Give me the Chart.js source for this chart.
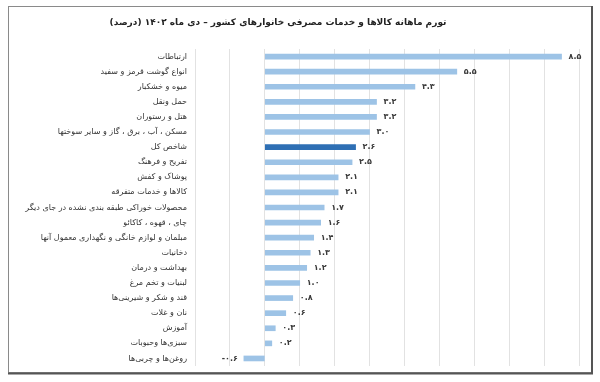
<!DOCTYPE html>
<html><head><meta charset="utf-8">
<script src="https://cdn.jsdelivr.net/npm/chart.js@4"></script>
<style>html,body{margin:0;padding:0;background:#fff}#wrap{width:600px;height:382px}</style>
</head><body><div id="wrap"><canvas id="c" width="600" height="382"></canvas></div>
<script>
const titleText = "تورم ماهانه کالاها و خدمات مصرفی خانوارهای کشور – دی ماه ۱۴۰۲ (درصد)";
const categories = [
  "ارتباطات",
  "انواع گوشت قرمز و سفید",
  "میوه و خشکبار",
  "حمل ونقل",
  "هتل و رستوران",
  "مسکن ، آب ، برق ، گاز و سایر سوختها",
  "شاخص کل",
  "تفریح و فرهنگ",
  "پوشاک و کفش",
  "کالاها و خدمات متفرقه",
  "محصولات خوراکی طبقه بندی نشده در جای دیگر",
  "چای ، قهوه ، کاکائو",
  "مبلمان و لوازم خانگی و نگهداری معمول آنها",
  "دخانیات",
  "بهداشت و درمان",
  "لبنیات و تخم مرغ",
  "قند و شکر و شیرینی‌ها",
  "نان و غلات",
  "آموزش",
  "سبزی‌ها وحبوبات",
  "روغن‌ها و چربی‌ها"
];
const values = [8.5, 5.5, 4.3, 3.2, 3.2, 3.0, 2.6, 2.5, 2.1, 2.1, 1.7, 1.6, 1.4, 1.3, 1.2, 1.0, 0.8, 0.6, 0.3, 0.2, -0.6];
const highlightCategory = "شاخص کل";
const xMin = -2, xMax = 9;

const faDigits = "۰۱۲۳۴۵۶۷۸۹";
function toFa(v){
  const s = Math.abs(v).toFixed(1).replace(/[0-9]/g, d => faDigits[+d]);
  return (v < 0 ? "-" : "") + s;
}

const LIGHT = "#9dc3e6", DARK = "#2e6fb4";
const FONT = "DejaVu Sans";

const framePlugin = {
  id: "frame",
  beforeDraw(chart){
    const ctx = chart.ctx;
    ctx.save();
    ctx.fillStyle = "#fff";
    ctx.fillRect(0,0,600,382);
    ctx.strokeStyle = "#8a8a8a";
    ctx.lineWidth = 1;
    ctx.strokeRect(8.5, 6.5, 583, 366);
    ctx.strokeStyle = "#555";
    ctx.lineWidth = 2;
    ctx.beginPath();
    ctx.moveTo(592, 6); ctx.lineTo(592, 373.5); ctx.lineTo(8, 373.5);
    ctx.stroke();
    ctx.restore();
  },
  afterDraw(chart){
    const ctx = chart.ctx;
    ctx.save();
    ctx.direction = "rtl";
    ctx.font = "bold 9px '" + FONT + "'";
    ctx.fillStyle = "#222";
    ctx.textAlign = "center";
    ctx.textBaseline = "middle";
    ctx.fillText(titleText, 278, 23);
    // data labels
    const meta = chart.getDatasetMeta(0);
    ctx.direction = "ltr";
    ctx.font = "bold 8px '" + FONT + "'";
    ctx.fillStyle = "#3a3a3a";
    meta.data.forEach((bar, i) => {
      const v = values[i];
      const txt = toFa(v);
      if (v >= 0) { ctx.textAlign = "left"; ctx.fillText(txt, bar.x + 7, bar.y); }
      else { ctx.textAlign = "right"; ctx.fillText(txt, bar.x - 6, bar.y); }
    });
    ctx.restore();
  }
};

new Chart(document.getElementById("c"), {
  type: "bar",
  data: {
    labels: categories,
    datasets: [{
      data: values,
      backgroundColor: categories.map(c => c === highlightCategory ? DARK : LIGHT),
      barThickness: 5,
      borderWidth: 0
    }]
  },
  options: {
    indexAxis: "y",
    responsive: false,
    animation: false,
    devicePixelRatio: 1,
    layout: { padding: { top: 49, bottom: 16, right: 21, left: 0 } },
    plugins: { legend: { display: false }, title: { display: false }, tooltip: { enabled: false } },
    scales: {
      x: {
        min: xMin, max: xMax,
        ticks: { display: false, stepSize: 1 },
        grid: { color: "#e2e2e2", lineWidth: 1, drawTicks: false },
        border: { display: false }
      },
      y: {
        ticks: { color: "#333", font: { family: FONT, size: 8 }, padding: 8, autoSkip: false },
        grid: { display: false, drawTicks: false },
        border: { display: false },
        afterFit(scale){ scale.width = 195; }
      }
    }
  },
  plugins: [framePlugin]
});
</script></body></html>
